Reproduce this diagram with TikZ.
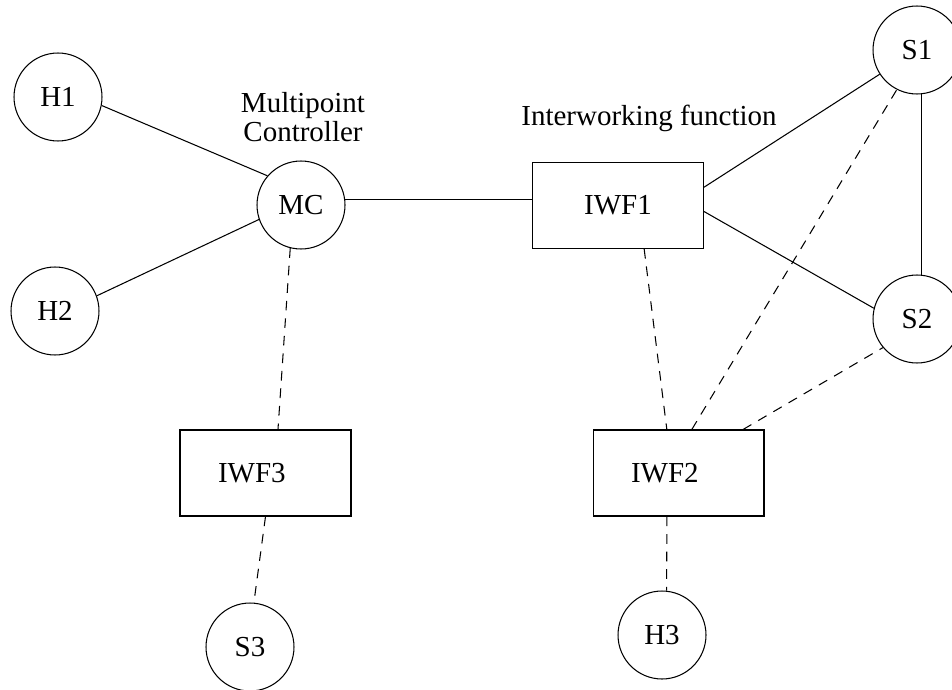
\documentclass[tikz,border=0pt]{standalone}
\usepackage{fontspec}
\setmainfont{Liberation Serif}
\begin{document}
\begin{tikzpicture}[x=0.02cm, y=-0.02cm, line width=0.6pt,
        font=\fontsize{16.5}{16.5}\selectfont,
        term/.style={circle, draw, minimum size=1.76cm, inner sep=0pt},
        iwf/.style={rectangle, draw, minimum width=3.42cm, minimum height=1.72cm, inner sep=0pt},
        iwfleft/.style={iwf, text width=1.9cm, inner xsep=0.76cm, align=left},
        dashedlink/.style={dash pattern=on 5.5pt off 4.5pt}]
        \useasboundingbox (0,0) rectangle (952,689);
        \foreach \n/\x/\y in {H1/58/97, H2/55/311, MC/301/205, S1/917/50, S2/917/319, S3/250/647, H3/662/635}{
            \node[term] (\n) at (\x,\y) {\n};
        }
        \node[iwf] (IWF1) at (618,205.5) {IWF1};
        \node[iwfleft] (IWF3) at (265.5,473) {IWF3};
        \node[iwfleft] (IWF2) at (678.5,473) {IWF2};
        \node[align=center] (mclabel) at (303,117) {Multipoint\\Controller};
        \node (iwflabel) at (649,118) {Interworking function};
        \draw (H1.-11) -- (MC.139);
        \draw (H2.20) -- (MC.199);
        \draw (MC.7) -- (MC.7 -| IWF1.west);
        \draw (IWF1.12) -- (S1.213);
        \draw (IWF1.-4) -- (S2.166);
        \draw (S1.-84) -- (S2.84);
        \draw[dashedlink] (MC.-104) -- (IWF3.74);
        \draw[dashedlink] (IWF3.south) -- (S3.85);
        \draw[dashedlink] (IWF1.-59) -- (IWF2.105);
        \draw[dashedlink] (IWF2.73) -- (S1.243);
        \draw[dashedlink] (IWF2.34) -- (S2.220);
        \draw[dashedlink] (IWF2.-105) -- (H3.84);
    \end{tikzpicture}
\end{document}
